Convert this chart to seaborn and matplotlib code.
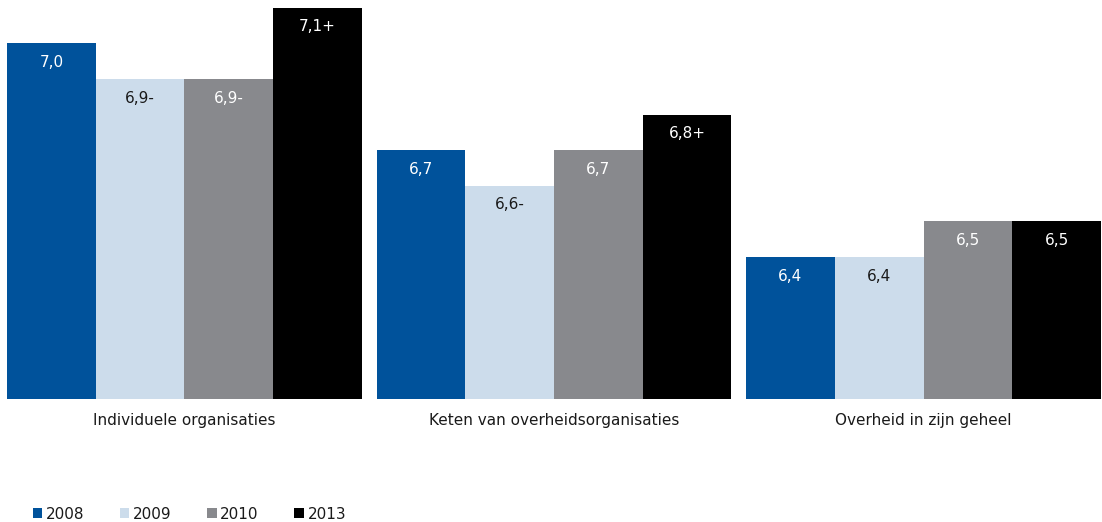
import numpy as np
import pandas as pd
import matplotlib
matplotlib.use("Agg")
import matplotlib.pyplot as plt
import seaborn as sns

# data
categories = ["Individuele organisaties", "Keten van overheidsorganisaties", "Overheid in zijn geheel"]
years = ["2008", "2009", "2010", "2013"]
scores_2008 = [7.0, 6.7, 6.4]
scores_2009 = [6.9, 6.6, 6.4]
scores_2010 = [6.9, 6.7, 6.5]
scores_2013 = [7.1, 6.8, 6.5]
labels_2008 = ["7,0", "6,7", "6,4"]
labels_2009 = ["6,9-", "6,6-", "6,4"]
labels_2010 = ["6,9-", "6,7", "6,5"]
labels_2013 = ["7,1+", "6,8+", "6,5"]

colors = {"2008": "#00529B", "2009": "#CCDCEB", "2010": "#88898D", "2013": "#000000"}
text_colors = {"2008": "white", "2009": "#1a1a1a", "2010": "white", "2013": "white"}

all_scores = [scores_2008, scores_2009, scores_2010, scores_2013]
all_labels = [labels_2008, labels_2009, labels_2010, labels_2013]

df = pd.DataFrame({
    "categorie": categories * len(years),
    "jaar": np.repeat(years, len(categories)),
    "score": sum(all_scores, []),
})

sns.set_style("white")
plt.rcParams["font.family"] = ["DejaVu Sans"]

fig = plt.figure(figsize=(11.02, 5.22), dpi=100)
ax = fig.add_axes([0, 0.2347, 1, 0.7653])

sns.barplot(data=df, x="categorie", y="score", hue="jaar", palette=colors,
            width=0.96, gap=0, linewidth=0, saturation=1, ax=ax)

ax.set_ylim(6.0, 7.122)
ax.set_xlim(-0.499, 2.483)

# waarden in de balken
for year, cont, labs in zip(years, ax.containers, all_labels):
    for bar, lab in zip(cont, labs):
        ax.annotate(lab, (bar.get_x() + bar.get_width() / 2, bar.get_height()),
                    xytext=(0, -19), textcoords="offset pixels",
                    ha="center", va="center", fontsize=11, color=text_colors[year])

ax.set_xlabel("")
ax.set_ylabel("")
ax.set_yticks([])
ax.tick_params(axis="x", length=0, pad=10, labelsize=11, labelcolor="#1a1a1a")
sns.despine(ax=ax, left=True, bottom=True)

handles, labels = ax.get_legend_handles_labels()
ax.get_legend().remove()
fig.legend(handles, labels, loc="center left", bbox_to_anchor=(0.03, 0.0153),
           ncol=4, frameon=False, fontsize=11, handlelength=0.6, handleheight=0.6,
           handletextpad=0.25, columnspacing=2.33, borderpad=0, borderaxespad=0,
           labelcolor="#1a1a1a")

fig.savefig("out.png", dpi=100)
